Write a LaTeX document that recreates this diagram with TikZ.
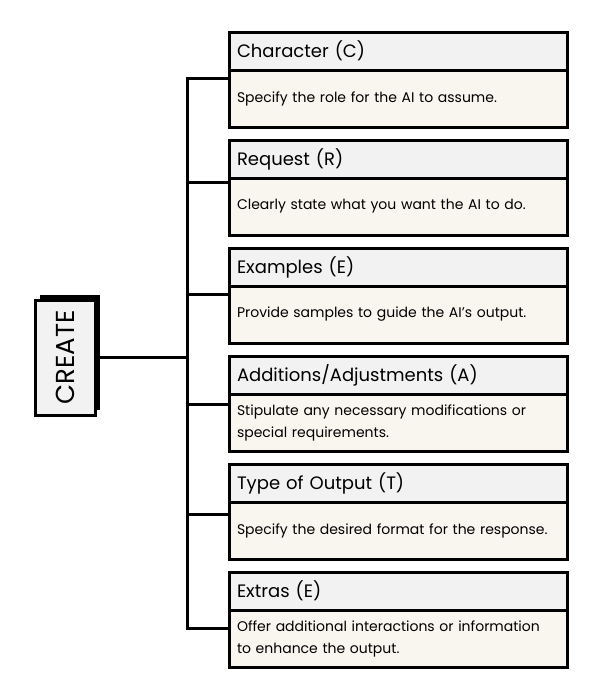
\documentclass[tikz,border=0pt]{standalone}
\usepackage{fontspec}
\setmainfont{Poppins}
\usepackage{tikz}
\usepackage{xcolor}
\usetikzlibrary{positioning,shadows}
\definecolor{title-grey}{HTML}{F2F2F2}
\definecolor{body-cream}{HTML}{F9F5EF}
\tikzset{
    card-title/.style = {draw=black, fill=title-grey, line width=2.25pt, rectangle, outer sep=0pt, text width=241.5pt, align=left, inner xsep=6pt, inner ysep=0pt, minimum height=28.5pt, font=\fontsize{13.5}{16}\selectfont},
    card-body/.style = {draw=black, fill=body-cream, line width=2.25pt, rectangle, outer sep=0pt, text width=241.5pt, align=left, inner xsep=6pt, inner ysep=0pt, minimum height=42.75pt, font=\fontsize{10.5}{16.5}\selectfont},
    root-box/.style = {draw=black, fill=title-grey, line width=2.25pt, rectangle, outer sep=0pt, minimum width=45pt, minimum height=86.25pt, inner sep=0pt, font=\fontsize{19.5}{22}\selectfont, drop shadow={shadow xshift=3.75pt, shadow yshift=3.75pt, opacity=1, fill=black}},
    branch-line/.style = {draw=black, line width=2.25pt, line cap=rect, line join=miter},
}

\begin{document}
\begin{tikzpicture}[x=0.75pt, y=-0.75pt]
\useasboundingbox (0,0) rectangle (600,700);

\node[card-title, anchor=north west] (title-c) at (229,32) {Character (C)};
\node[card-body, below=0pt of title-c] (body-c) {Specify the role for the AI to assume.};
\node[card-title, below=9.75pt of body-c] (title-r) {Request (R)};
\node[card-body, below=0pt of title-r] (body-r) {Clearly state what you want the AI to do.};
\node[card-title, below=9.75pt of body-r] (title-e) {Examples (E)};
\node[card-body, below=0pt of title-e] (body-e) {Provide samples to guide the AI's output.};
\node[card-title, below=9.75pt of body-e] (title-a) {Additions/Adjustments (A)};
\node[card-body, below=0pt of title-a] (body-a) {Stipulate any necessary modifications or\\special requirements.};
\node[card-title, below=9.75pt of body-a] (title-t) {Type of Output (T)};
\node[card-body, below=0pt of title-t] (body-t) {Specify the desired format for the response.};
\node[card-title, below=9.75pt of body-t] (title-x) {Extras (E)};
\node[card-body, below=0pt of title-x] (body-x) {Offer additional interactions or information\\to enhance the output.};

\node[root-box] (create) at (65,357.5) {\rotatebox{90}{CREATE}};
\coordinate (hub) at (187,357.5);

\draw[branch-line] (create.east) -- (hub);
\draw[branch-line] (hub) |- ([yshift=-6pt]body-c.north west);
\draw[branch-line] (hub) |- ([yshift=-3pt]body-r.north west);
\draw[branch-line] (hub) |- ([yshift=-6pt]body-e.north west);
\draw[branch-line] (hub) |- ([yshift=-7.5pt]body-a.north west);
\draw[branch-line] (hub) |- ([yshift=-9pt]body-t.north west);
\draw[branch-line] (hub) |- ([yshift=-13.5pt]body-x.north west);
\end{tikzpicture}
\end{document}
